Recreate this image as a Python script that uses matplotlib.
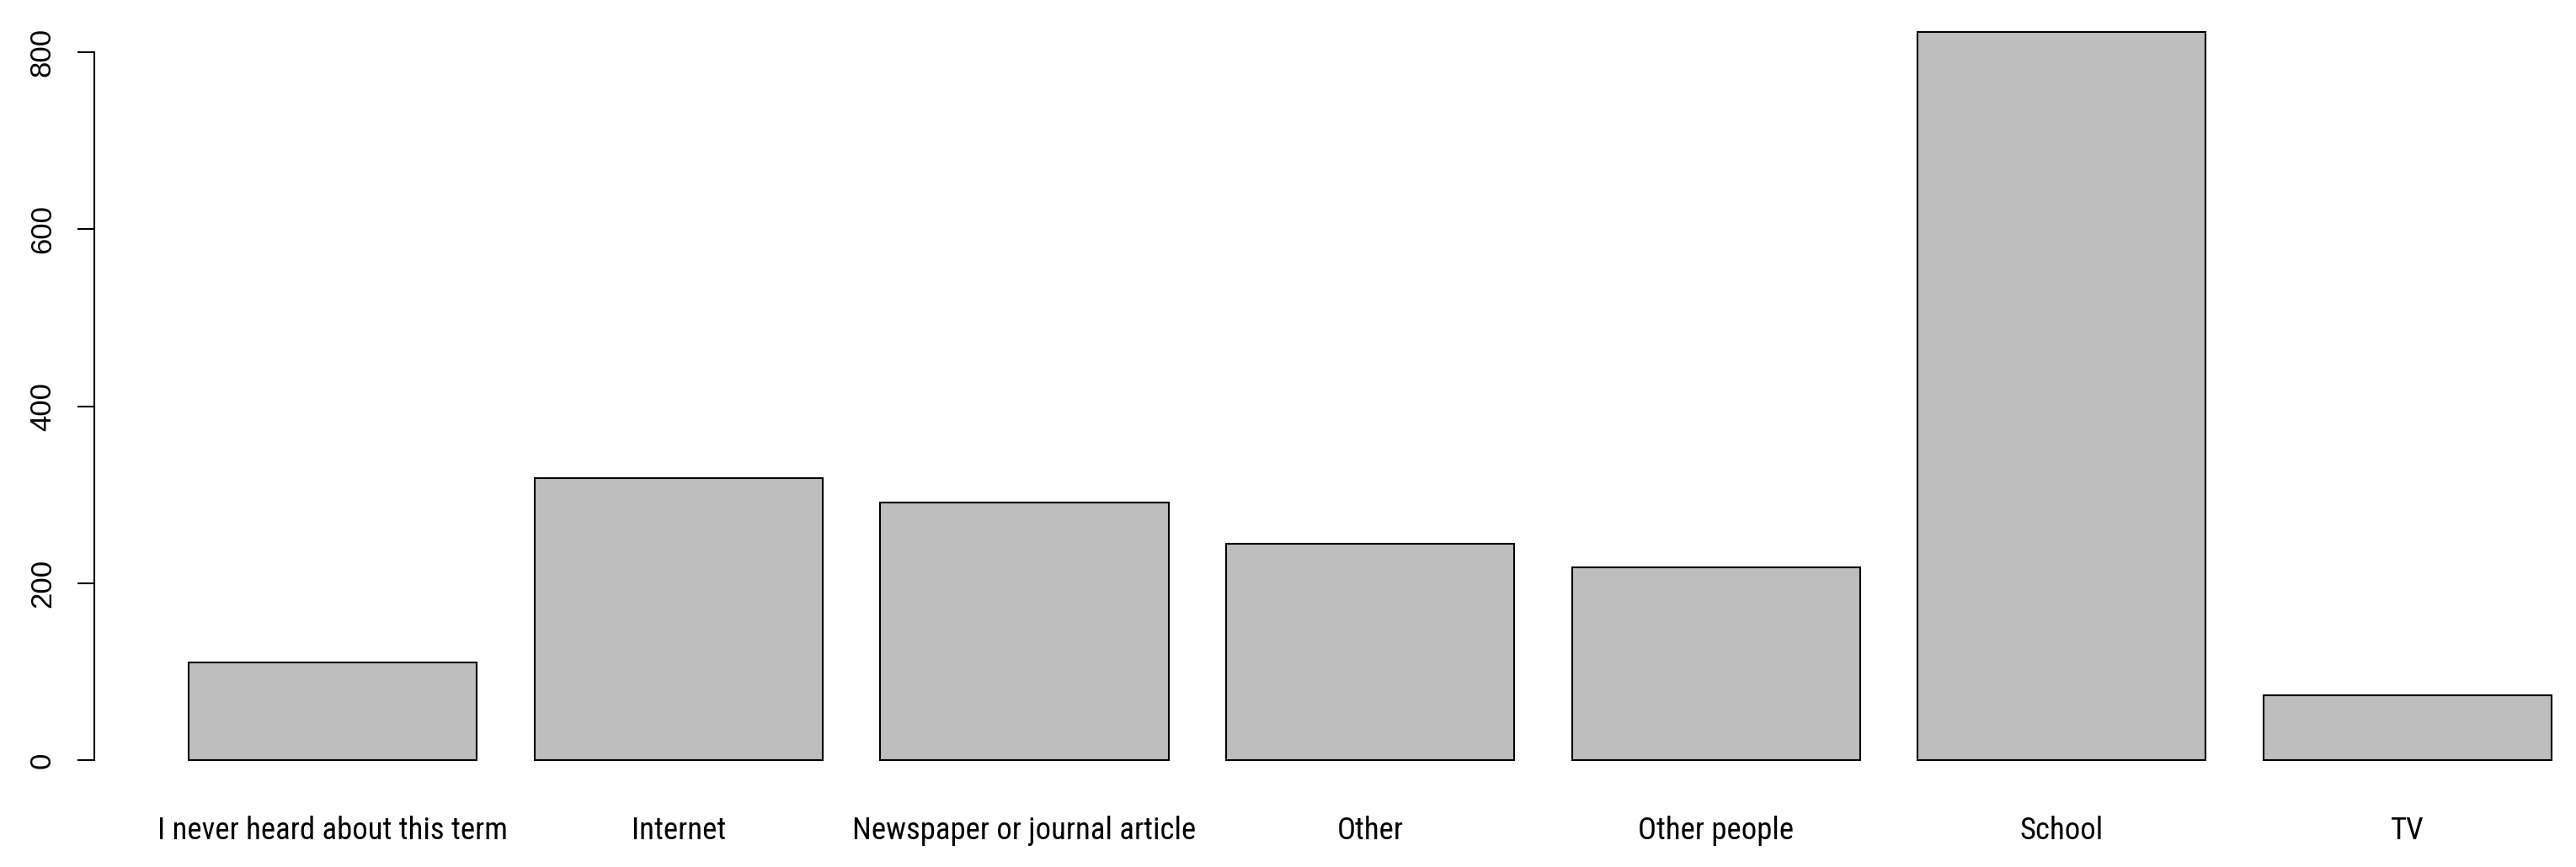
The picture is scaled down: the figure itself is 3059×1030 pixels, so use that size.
import matplotlib
matplotlib.use('Agg')
import matplotlib.pyplot as plt
import matplotlib.transforms as mtransforms

categories = ['I never heard about this term', 'Internet', 'Newspaper or journal article',
              'Other', 'Other people', 'School', 'TV']
counts = [110, 319, 291, 245, 218, 823, 73]
yticks = [0, 200, 400, 600, 800]

# R barplot layout: width 1, space 0.2
centers = [0.7 + 1.2 * i for i in range(len(categories))]

fig = plt.figure(figsize=(30.59, 10.30), dpi=100)
ax = fig.add_axes([112 / 3059, 1 - 937.6 / 1030, 1 - 112 / 3059, (937.6 - 3.5) / 1030])

ax.bar(centers, counts, width=1.0, color='#bebebe', edgecolor='black', linewidth=1.5)

ax.set_xlim(-0.128, 8.485)
ax.set_ylim(-32.9, 855.9)

for s in ['top', 'right', 'bottom']:
    ax.spines[s].set_visible(False)
ax.spines['left'].set_bounds(0, 800)
ax.spines['left'].set_linewidth(1.5)
ax.set_xticks([])
ax.set_yticks(yticks)
ax.set_yticklabels([str(t) for t in yticks], rotation=90, va='center',
                   fontsize=25, family=['Liberation Sans', 'DejaVu Sans'])
ax.tick_params(axis='y', length=14.5, width=1.5, pad=18)

# narrow font for the names, if one is around
name_font = ['Liberation Sans Narrow', 'Roboto Condensed', 'Open Sans Condensed',
             'Liberation Sans']
trans = mtransforms.blended_transform_factory(ax.transData, fig.transFigure)
labels = []
for x, name in zip(centers, categories):
    t = ax.text(x, 1 - 987 / 1030, name, ha='center', va='center', fontsize=25,
                family=name_font, transform=trans)
    labels.append(t)

# scale the size so all names together are as wide as in the original (~1342 px)
renderer = fig.canvas.get_renderer()
w = sum(t.get_window_extent(renderer).width for t in labels)
size = 25 * 1342 / w
for t in labels:
    t.set_fontsize(size)

fig.savefig('out.png', dpi=100)
